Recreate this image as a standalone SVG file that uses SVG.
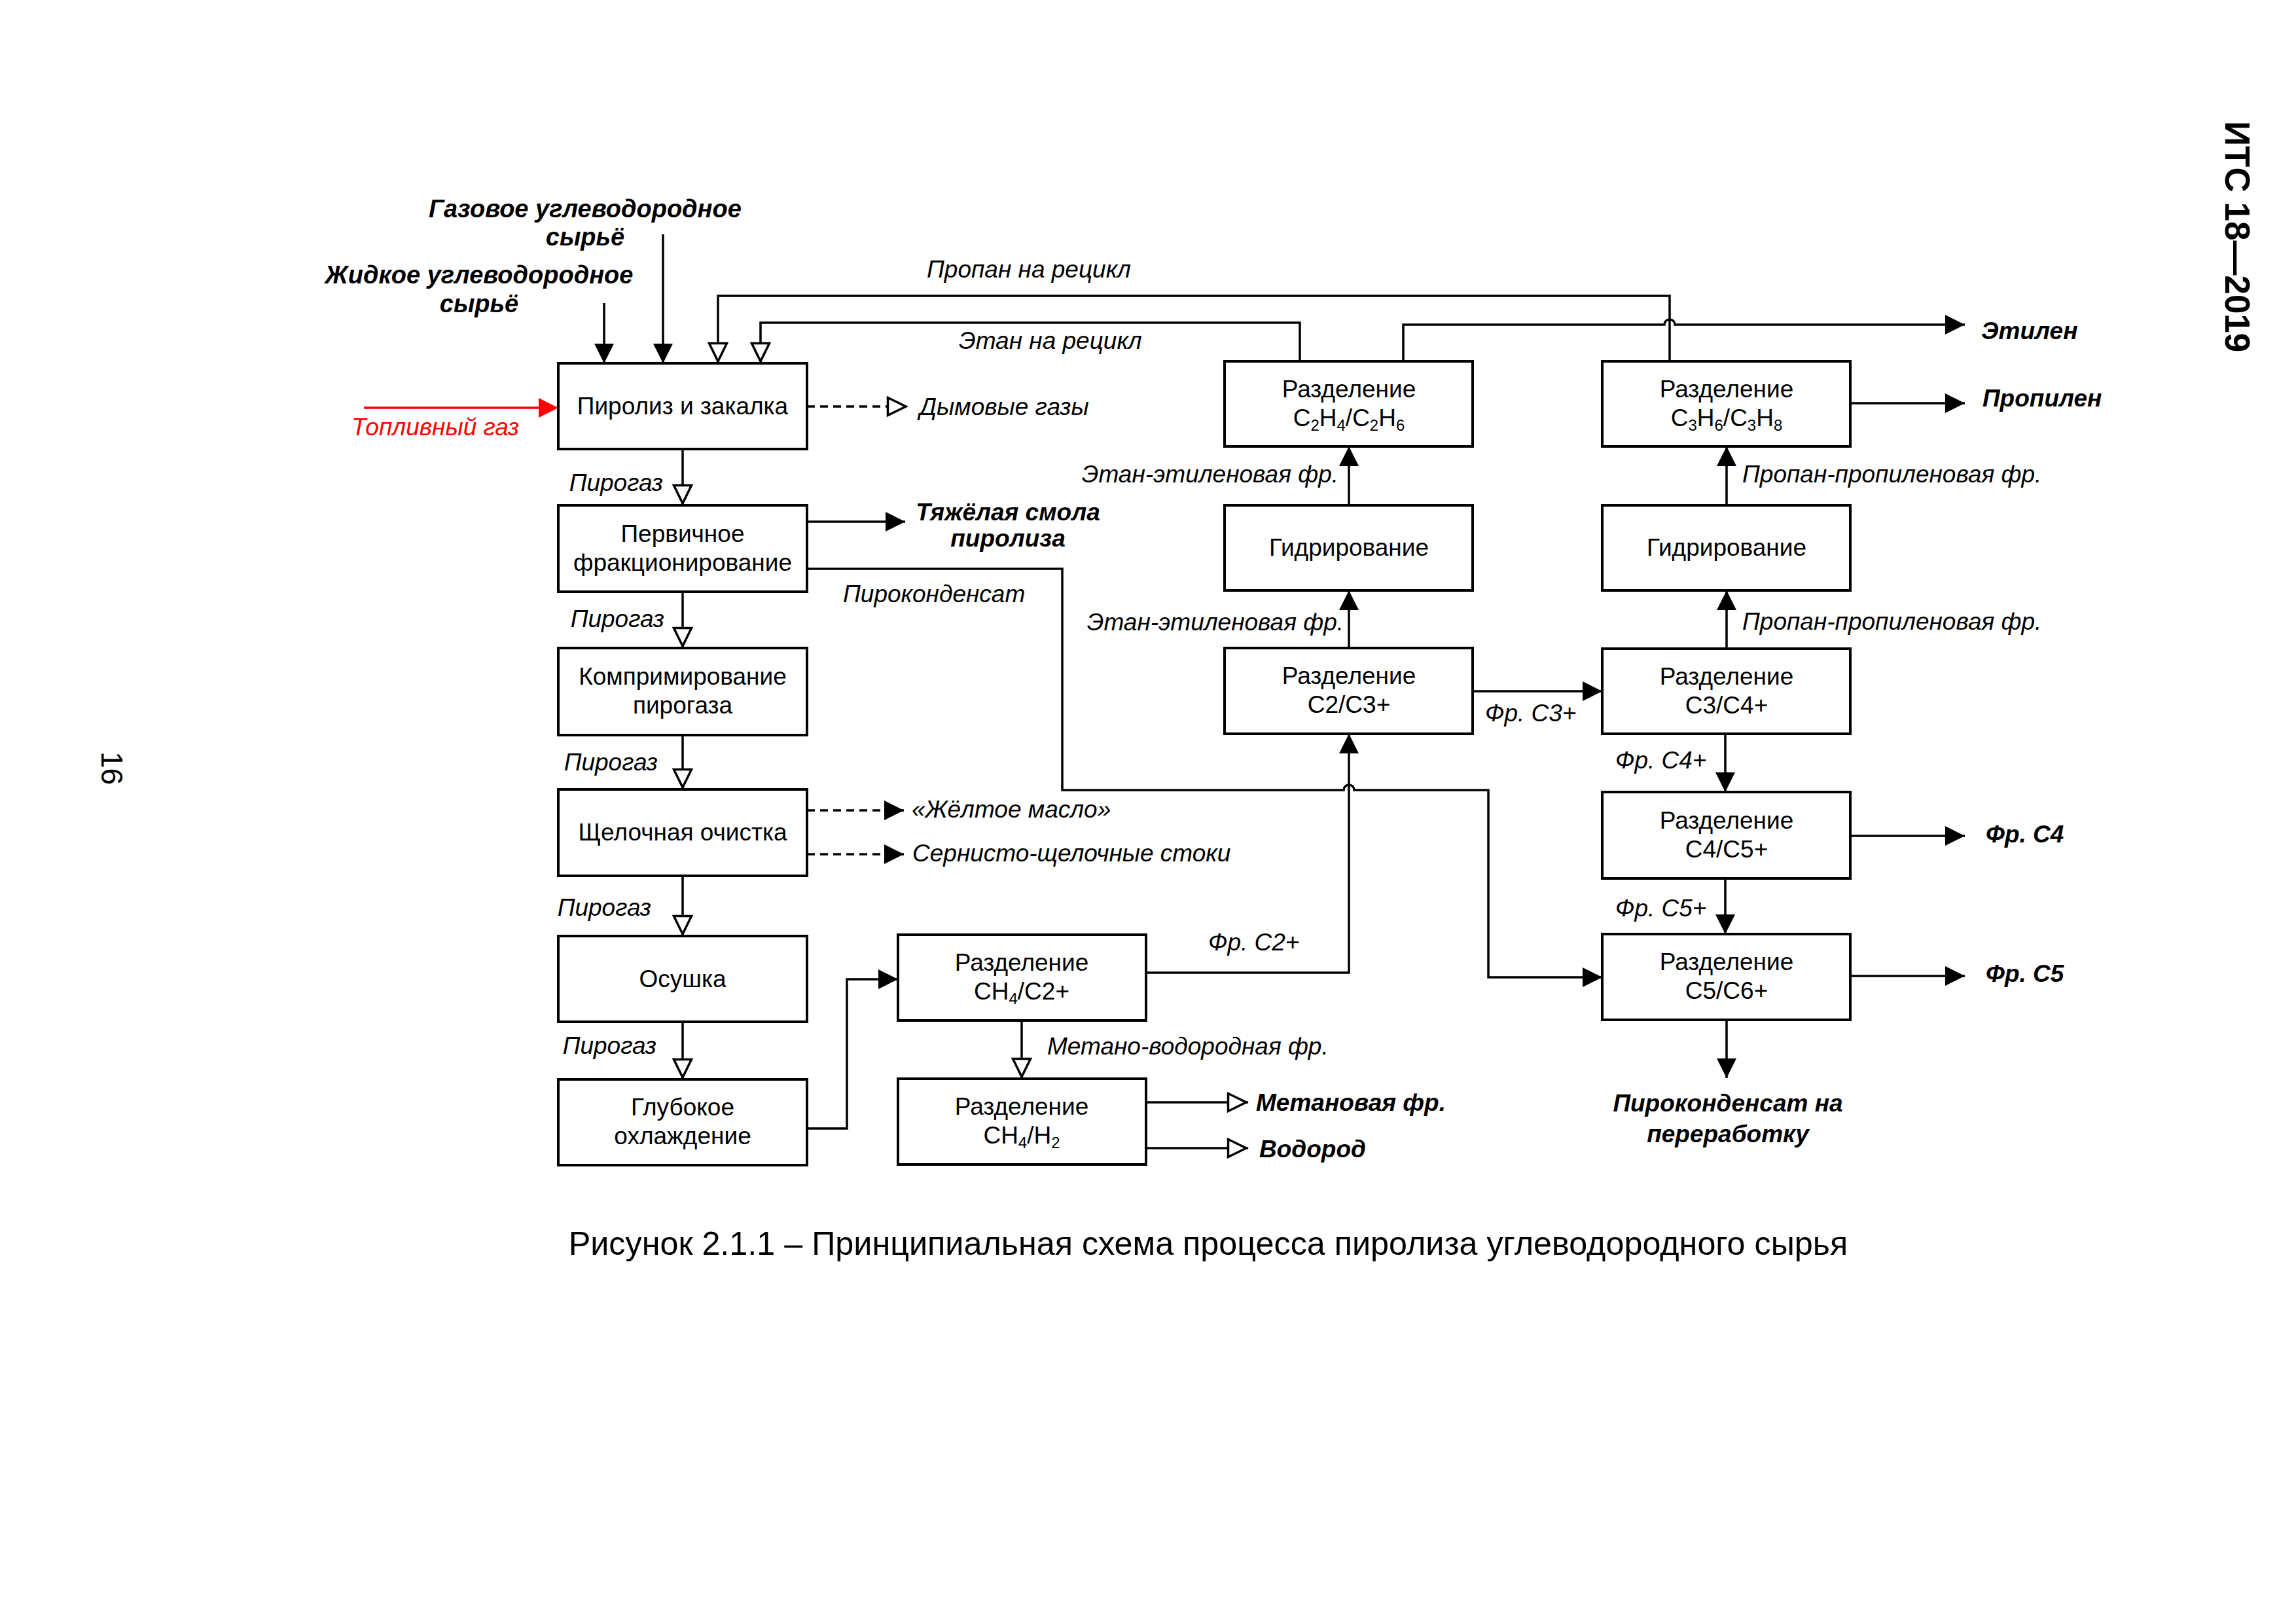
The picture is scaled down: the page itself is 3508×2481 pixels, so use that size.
<svg xmlns="http://www.w3.org/2000/svg" width="3508" height="2481" viewBox="0 0 3508 2481">
<style>
text { font-family: "Liberation Sans", Arial, sans-serif; fill: #000; }
.box { fill: #fff; stroke: #000; stroke-width: 4; }
.ln { fill: none; stroke: #000; stroke-width: 3.5; }
.dash { stroke-dasharray: 12 8; }
.bt { font-size: 37px; text-anchor: middle; }
.lb { font-size: 37px; font-style: italic; }
.bi { font-size: 37px; font-style: italic; font-weight: bold; }
.big { font-size: 38px; }
.end { text-anchor: end; }
.mid { text-anchor: middle; }
.sub { font-size: 24px; }
</style>
<defs>
<marker id="af" markerUnits="userSpaceOnUse" markerWidth="30" markerHeight="30" viewBox="0 0 30 30" refX="30" refY="15" orient="auto"><path d="M0,0 L30,15 L0,30 Z" fill="#000"/></marker>
<marker id="ar" markerUnits="userSpaceOnUse" markerWidth="30" markerHeight="30" viewBox="0 0 30 30" refX="30" refY="15" orient="auto"><path d="M0,0 L30,15 L0,30 Z" fill="#ff0000"/></marker>
<marker id="ah" markerUnits="userSpaceOnUse" markerWidth="44" markerHeight="40" viewBox="-5 -5 44 40" refX="32" refY="15" orient="auto"><path d="M1.5,1.5 L29,15 L1.5,28.5 Z" fill="#fff" stroke="#000" stroke-width="3.5" stroke-linejoin="miter"/></marker>
</defs>
<rect x="0" y="0" width="3508" height="2481" fill="#fff"/>

<g id="connectors">
<path class="ln" d="M1013,358 V555" marker-end="url(#af)"/>
<path class="ln" d="M923,463 V555" marker-end="url(#af)"/>
<path d="M556,623 H853" fill="none" stroke="#ff0000" stroke-width="3.5" marker-end="url(#ar)"/>
<path class="ln" d="M2551,552 V452 H1097 V555" marker-end="url(#ah)"/>
<path class="ln" d="M1986,552 V493 H1162 V555" marker-end="url(#ah)"/>
<path class="ln dash" d="M1233,621 H1387" marker-end="url(#ah)"/>
<path class="ln" d="M1043,686 V772" marker-end="url(#ah)"/>
<path class="ln" d="M1043,904 V990" marker-end="url(#ah)"/>
<path class="ln" d="M1043,1123 V1206" marker-end="url(#ah)"/>
<path class="ln" d="M1043,1338 V1430" marker-end="url(#ah)"/>
<path class="ln" d="M1043,1561 V1649" marker-end="url(#ah)"/>
<path class="ln" d="M1233,797 H1383" marker-end="url(#af)"/>
<path class="ln" d="M1233,869 H1623 V1207 H2053 A8,8 0 0 1 2069,1207 H2274 V1493 H2448" marker-end="url(#af)"/>
<path class="ln dash" d="M1233,1238 H1381" marker-end="url(#af)"/>
<path class="ln dash" d="M1233,1305 H1381" marker-end="url(#af)"/>
<path class="ln" d="M1233,1724 H1294 V1496 H1372" marker-end="url(#af)"/>
<path class="ln" d="M1561,1559 V1648" marker-end="url(#ah)"/>
<path class="ln" d="M1751,1684 H1907" marker-end="url(#ah)"/>
<path class="ln" d="M1751,1754 H1907" marker-end="url(#ah)"/>
<path class="ln" d="M1751,1486 H2061 V1121" marker-end="url(#af)"/>
<path class="ln" d="M2061,990 V902" marker-end="url(#af)"/>
<path class="ln" d="M2061,772 V682" marker-end="url(#af)"/>
<path class="ln" d="M2144,552 V496 H2543 A8,8 0 0 1 2559,496 H3002" marker-end="url(#af)"/>
<path class="ln" d="M2250,1056 H2448" marker-end="url(#af)"/>
<path class="ln" d="M2638,991 V902" marker-end="url(#af)"/>
<path class="ln" d="M2638,772 V682" marker-end="url(#af)"/>
<path class="ln" d="M2827,616 H3002" marker-end="url(#af)"/>
<path class="ln" d="M2636,1121 V1210" marker-end="url(#af)"/>
<path class="ln" d="M2636,1342 V1427" marker-end="url(#af)"/>
<path class="ln" d="M2827,1277 H3002" marker-end="url(#af)"/>
<path class="ln" d="M2827,1491 H3002" marker-end="url(#af)"/>
<path class="ln" d="M2638,1558 V1647" marker-end="url(#af)"/>
</g>

<g id="n_pyro"><rect class="box" x="853" y="555" width="380" height="131"/><text class="bt" x="1043" y="633">Пиролиз и закалка</text></g>
<g id="n_prim"><rect class="box" x="853" y="772" width="380" height="132"/><text class="bt" x="1043" y="828">Первичное</text><text class="bt" x="1043" y="872">фракционирование</text></g>
<g id="n_comp"><rect class="box" x="853" y="990" width="380" height="133"/><text class="bt" x="1043" y="1046">Компримирование</text><text class="bt" x="1043" y="1090">пирогаза</text></g>
<g id="n_alk"><rect class="box" x="853" y="1206" width="380" height="132"/><text class="bt" x="1043" y="1284">Щелочная очистка</text></g>
<g id="n_dry"><rect class="box" x="853" y="1430" width="380" height="131"/><text class="bt" x="1043" y="1508">Осушка</text></g>
<g id="n_deep"><rect class="box" x="853" y="1649" width="380" height="131"/><text class="bt" x="1043" y="1704">Глубокое</text><text class="bt" x="1043" y="1748">охлаждение</text></g>
<g id="n_ch4c2"><rect class="box" x="1372" y="1428" width="379" height="131"/><text class="bt" x="1561" y="1483">Разделение</text><text class="bt" x="1561" y="1527">CH<tspan class="sub" dy="7">4</tspan><tspan dy="-7">/C2+</tspan></text></g>
<g id="n_ch4h2"><rect class="box" x="1372" y="1648" width="379" height="131"/><text class="bt" x="1561" y="1703">Разделение</text><text class="bt" x="1561" y="1747">CH<tspan class="sub" dy="7">4</tspan><tspan dy="-7">/H</tspan><tspan class="sub" dy="7">2</tspan></text></g>
<g id="n_c2h4"><rect class="box" x="1871" y="552" width="379" height="130"/><text class="bt" x="2061" y="607">Разделение</text><text class="bt" x="2061" y="651">C<tspan class="sub" dy="7">2</tspan><tspan dy="-7">H</tspan><tspan class="sub" dy="7">4</tspan><tspan dy="-7">/C</tspan><tspan class="sub" dy="7">2</tspan><tspan dy="-7">H</tspan><tspan class="sub" dy="7">6</tspan></text></g>
<g id="n_hyd1"><rect class="box" x="1871" y="772" width="379" height="130"/><text class="bt" x="2061" y="849">Гидрирование</text></g>
<g id="n_c2c3"><rect class="box" x="1871" y="990" width="379" height="131"/><text class="bt" x="2061" y="1045">Разделение</text><text class="bt" x="2061" y="1089">C2/C3+</text></g>
<g id="n_c3h6"><rect class="box" x="2448" y="552" width="379" height="130"/><text class="bt" x="2638" y="607">Разделение</text><text class="bt" x="2638" y="651">C<tspan class="sub" dy="7">3</tspan><tspan dy="-7">H</tspan><tspan class="sub" dy="7">6</tspan><tspan dy="-7">/C</tspan><tspan class="sub" dy="7">3</tspan><tspan dy="-7">H</tspan><tspan class="sub" dy="7">8</tspan></text></g>
<g id="n_hyd2"><rect class="box" x="2448" y="772" width="379" height="130"/><text class="bt" x="2638" y="849">Гидрирование</text></g>
<g id="n_c3c4"><rect class="box" x="2448" y="991" width="379" height="130"/><text class="bt" x="2638" y="1046">Разделение</text><text class="bt" x="2638" y="1090">C3/C4+</text></g>
<g id="n_c4c5"><rect class="box" x="2448" y="1210" width="379" height="132"/><text class="bt" x="2638" y="1266">Разделение</text><text class="bt" x="2638" y="1310">C4/C5+</text></g>
<g id="n_c5c6"><rect class="box" x="2448" y="1427" width="379" height="131"/><text class="bt" x="2638" y="1482">Разделение</text><text class="bt" x="2638" y="1526">C5/C6+</text></g>

<g id="labels">
<text class="bi big mid" x="894" y="332">Газовое углеводородное</text>
<text class="bi big mid" x="894" y="375">сырьё</text>
<text class="bi big mid" x="732" y="433">Жидкое углеводородное</text>
<text class="bi big mid" x="732" y="477">сырьё</text>
<text class="lb" x="537" y="665" style="fill:#ff0000">Топливный газ</text>
<text class="lb" x="1416" y="424">Пропан на рецикл</text>
<text class="lb" x="1465" y="533">Этан на рецикл</text>
<text class="lb" x="1405" y="634">Дымовые газы</text>
<text class="lb end" x="1013" y="750">Пирогаз</text>
<text class="lb end" x="1015" y="958">Пирогаз</text>
<text class="lb end" x="1005" y="1177">Пирогаз</text>
<text class="lb end" x="995" y="1399">Пирогаз</text>
<text class="lb end" x="1003" y="1610">Пирогаз</text>
<text class="bi mid" x="1540" y="795">Тяжёлая смола</text>
<text class="bi mid" x="1540" y="835">пиролиза</text>
<text class="lb" x="1288" y="920">Пироконденсат</text>
<text class="lb" x="1393" y="1249">«Жёлтое масло»</text>
<text class="lb" x="1394" y="1316">Сернисто-щелочные стоки</text>
<text class="lb" x="1846" y="1452">Фр. C2+</text>
<text class="lb" x="1600" y="1611">Метано-водородная фр.</text>
<text class="bi" x="1919" y="1697">Метановая фр.</text>
<text class="bi" x="1924" y="1768">Водород</text>
<text class="lb end" x="2045" y="737">Этан-этиленовая фр.</text>
<text class="lb end" x="2053" y="963">Этан-этиленовая фр.</text>
<text class="lb" x="2662" y="737">Пропан-пропиленовая фр.</text>
<text class="lb" x="2662" y="962">Пропан-пропиленовая фр.</text>
<text class="lb" x="2269" y="1102">Фр. C3+</text>
<text class="lb" x="2468" y="1174">Фр. C4+</text>
<text class="lb" x="2468" y="1400">Фр. C5+</text>
<text class="bi" x="3027" y="518">Этилен</text>
<text class="bi" x="3029" y="621">Пропилен</text>
<text class="bi" x="3034" y="1287">Фр. C4</text>
<text class="bi" x="3034" y="1500">Фр. C5</text>
<text class="bi mid" x="2640" y="1698">Пироконденсат на</text>
<text class="bi mid" x="2640" y="1745">переработку</text>
</g>

<text x="1846" y="1917" text-anchor="middle" font-size="50.3">Рисунок 2.1.1 – Принципиальная схема процесса пиролиза углеводородного сырья</text>
<text transform="translate(3400,185) rotate(90)" font-size="53" font-weight="bold">ИТС 18—2019</text>
<text transform="translate(155,1148) rotate(90)" font-size="46">16</text>
</svg>
